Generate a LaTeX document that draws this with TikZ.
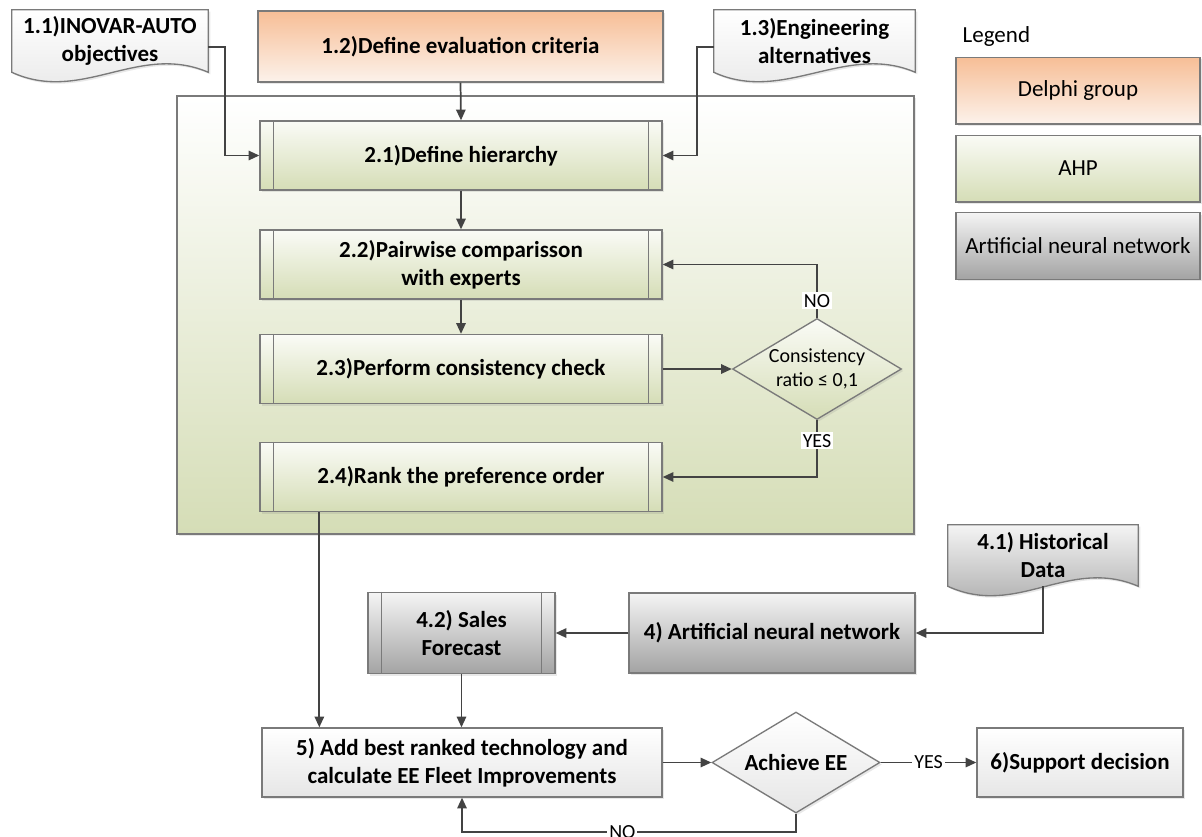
\documentclass[tikz,border=0pt]{standalone}
\usepackage{fontspec}
\setmainfont{Carlito}
\usetikzlibrary{shapes.geometric,arrows.meta,shadows,backgrounds}

\definecolor{linegray}{HTML}{434343}
\definecolor{bordgray}{HTML}{7A7A7A}
\definecolor{delphitop}{HTML}{F7BE96}
\definecolor{delphibot}{HTML}{FCF2EB}
\definecolor{ahptop}{HTML}{FAFBF6}
\definecolor{ahpbot}{HTML}{D5DDB6}
\definecolor{anntop}{HTML}{F4F4F4}
\definecolor{annbot}{HTML}{A3A3A3}
\definecolor{plainbot}{HTML}{E6E6E6}

\begin{document}
\begin{tikzpicture}[x=0.75pt, y=-0.75pt,
    bfont/.style={font=\fontsize{17.25}{21}\selectfont\bfseries},
    rfont/.style={font=\fontsize{17.25}{21}\selectfont},
    sfont/.style={font=\fontsize{15}{18}\selectfont},
    bord/.style={draw=bordgray, line width=1pt},
    shd/.style={drop shadow={opacity=0.18, shadow xshift=1.5pt, shadow yshift=-1.5pt}},
    procbox/.style={bord, shd, rectangle, align=center, inner sep=2pt, bfont},
    delphibox/.style={procbox, top color=delphitop, bottom color=delphibot},
    ahpbox/.style={procbox, top color=ahptop, bottom color=ahpbot, minimum width=301.5pt, minimum height=51.75pt},
    annbox/.style={procbox, top color=anntop, bottom color=annbot},
    whitebox/.style={procbox, top color=white, bottom color=plainbot},
    docnode/.style={rectangle, align=center, inner sep=2pt, bfont},
    decide/.style={diamond, aspect=1.67, bord, shd, align=center, inner sep=0pt},
    lbl/.style={fill=white, inner sep=1.5pt, sfont},
    arr/.style={draw=linegray, line width=1.3pt, -{Triangle[length=8pt,width=7pt]}},
    legbox/.style={bord, shd, rectangle, rfont, minimum width=183pt, minimum height=50pt}]

    \useasboundingbox (0,0) rectangle (1202,836);

    % Inputs (Delphi group)
    \node[docnode, minimum width=147pt, minimum height=46.5pt] (doc11) at (110,41) {1.1)INOVAR-AUTO\\objectives};
    \node[delphibox, minimum width=303.75pt, minimum height=53.25pt] (n12) at (460.5,46.5) {1.2)Define evaluation criteria};
    \node[docnode, minimum width=150.75pt, minimum height=46.5pt] (doc13) at (814.5,41) {1.3)Engineering\\alternatives};

    % AHP area
    \node[bord, shd, top color=white, bottom color=ahpbot, minimum width=552.75pt, minimum height=328.5pt] (ahparea) at (545.5,315) {};
    \node[ahpbox] (h21) at (461,155.5) {2.1)Define hierarchy};
    \node[ahpbox] (h22) at (461,264.5) {2.2)Pairwise comparisson\\with experts};
    \node[ahpbox] (h23) at (461,369) {2.3)Perform consistency check};
    \node[ahpbox] (h24) at (461,477) {2.4)Rank the preference order};
    \node[decide, top color=ahptop, bottom color=ahpbot, minimum width=126.75pt, minimum height=75.75pt, sfont] (cr) at (817,369) {Consistency\\ratio ≤ 0,1};

    % ANN part
    \node[docnode, minimum width=142.5pt, minimum height=45.75pt] (doc41) at (1043,555.5) {4.1) Historical\\Data};
    \node[annbox, minimum width=214.5pt, minimum height=60pt] (n4) at (772,633) {4) Artificial neural network};
    \node[annbox, minimum width=140.25pt, minimum height=60.75pt] (n42) at (461.5,633) {4.2) Sales\\Forecast};

    % -- side bars of the sub-processes
    \foreach \b in {h21,h22,h23,h24,n42} {
        \draw[bord] ([xshift=10.5pt]\b.north west) -- ([xshift=10.5pt]\b.south west);
        \draw[bord] ([xshift=-10.5pt]\b.north east) -- ([xshift=-10.5pt]\b.south east);
    }

    % Decision part
    \node[whitebox, minimum width=300pt, minimum height=51.75pt] (n5) at (462,762.5) {5) Add best ranked technology and\\calculate EE Fleet Improvements};
    \node[decide, top color=white, bottom color=plainbot, minimum width=126pt, minimum height=75.75pt, bfont] (ee) at (796,762.5) {Achieve EE};
    \node[whitebox, minimum width=154.5pt, minimum height=51.75pt] (n6) at (1080,762.5) {6)Support decision};

    % Legend
    \node[anchor=west, rfont] (legtitle) at (958,36) {Legend};
    \node[legbox, top color=delphitop, bottom color=delphibot] (leg1) at (1078,90.5) {Delphi group};
    \node[legbox, top color=ahptop, bottom color=ahpbot] (leg2) at (1078,168.5) {AHP};
    \node[legbox, top color=anntop, bottom color=annbot] (leg3) at (1078,246) {Artificial neural network};

    % Document shapes, behind their texts
    \begin{pgfonlayer}{background}
        \fill[white] (0,0) rectangle (1202,836);
        \foreach \d/\tc/\bc in {doc11/white/plainbot, doc13/white/plainbot, doc41/anntop/annbot}
            \draw[bord, shd, top color=\tc, bottom color=\bc] (\d.north west) -- (\d.north east) -- (\d.south east)
                .. controls +(-70,-30) and +(70,32) .. (\d.south west) -- cycle;
    \end{pgfonlayer}

    % Connectors
    \draw[arr] ([yshift=-4.5pt]doc11.east) -- ++(17,0) |- (h21.west);
    \draw[arr] (n12.south) -- (h21.north);
    \draw[arr] ([yshift=-4.5pt]doc13.west) -- ++(-17,0) |- (h21.east);
    \draw[arr] (h21) -- (h22);
    \draw[arr] (h22) -- (h23);
    \draw[arr] (h23) -- (cr);
    \draw[arr] (cr.north) |- node[lbl, pos=0.16] {NO} (h22.east);
    \draw[arr] (cr.south) |- node[lbl, pos=0.18] {YES} (h24.east);
    \coordinate (rk) at ([xshift=45pt]h24.south west);
    \draw[arr] (rk) -- (rk |- n5.north);
    \draw[arr] (doc41.south) |- (n4.east);
    \draw[arr] (n4) -- (n42);
    \draw[arr] (n42) -- (n42 |- n5.north);
    \draw[arr] (n5) -- (ee);
    \draw[arr] (ee) -- node[lbl] {YES} (n6);
    \draw[arr] (ee.south) -- ++(0,18) -| node[lbl, pos=0.26] {NO} (n5.south);
\end{tikzpicture}
\end{document}
